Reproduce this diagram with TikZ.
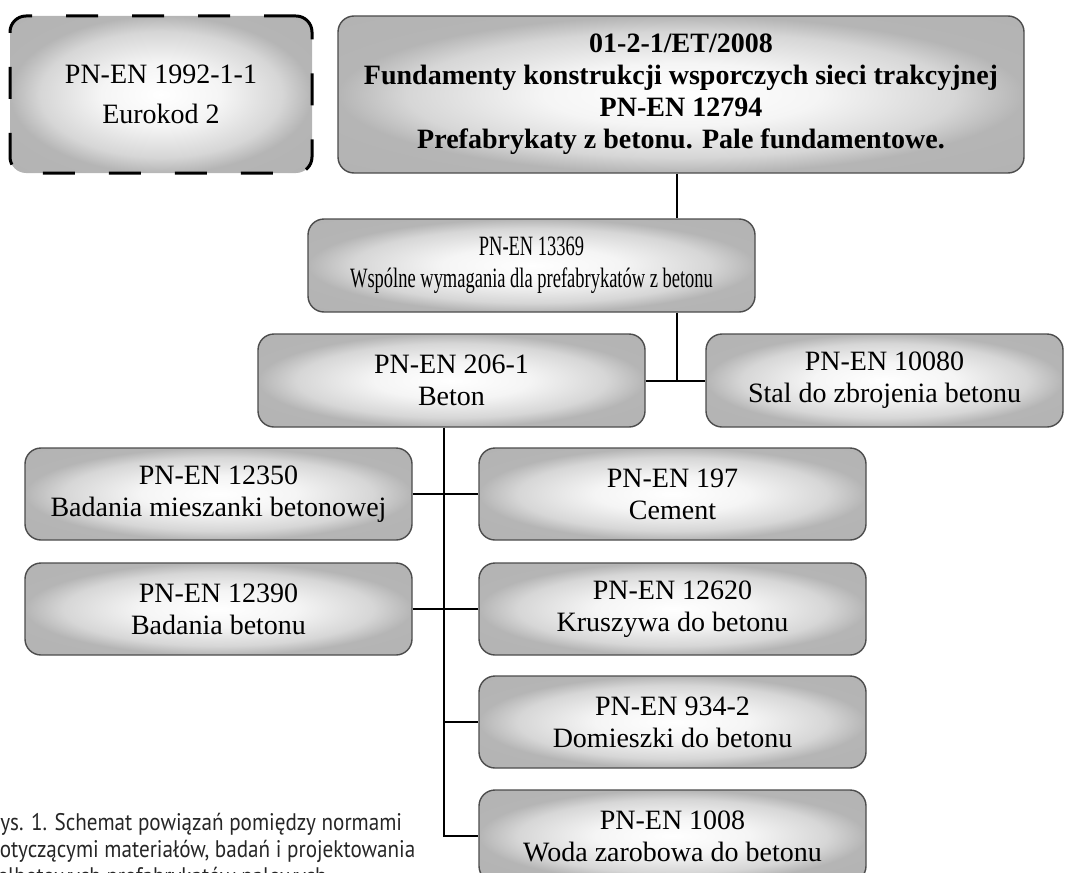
\documentclass[tikz,border=0pt]{standalone}
\usepackage{fontspec}
\setmainfont{Liberation Serif}
\newfontfamily\narrowserif[FakeStretch=0.66]{Liberation Serif}
\newfontfamily\capfont[FakeStretch=0.88]{PT Sans}
\pgfdeclareradialshading{boxshade}{\pgfpoint{0bp}{0bp}}{%
  color(0bp)=(white); color(10bp)=(black!4); color(20bp)=(black!16);
  color(25bp)=(black!29); color(50bp)=(black!31)}

\begin{document}
\begin{tikzpicture}
[x=.5pt,y=-.5pt,
 box/.style={draw=black!70,line width=.7pt,rounded corners=8pt,
   shading=boxshade,align=center,
   minimum height=46pt,font=\fontsize{14}{16}\selectfont},
 normbox/.style={box,minimum width=193.5pt},
 link/.style={line width=1pt}]
\useasboundingbox (0,0) rectangle (1080,872);

\node[box,draw=black,line width=1.5pt,dash pattern=on 16pt off 17pt,
  minimum width=151pt,minimum height=78.5pt,
  font=\fontsize{14}{23}\selectfont] (en1992) at (161,94.5)
  {\raisebox{-3pt}{PN-EN 1992-1-1}\\Eurokod 2};
\node[box,minimum width=343pt,minimum height=78.5pt,
  font=\bfseries\fontsize{14}{16}\selectfont] (en12794) at (681,94.5)
  {01-2-1/ET/2008\\Fundamenty konstrukcji wsporczych sieci trakcyjnej\\PN-EN 12794\\Prefabrykaty z betonu. Pale fundamentowe.};

\node[box,minimum width=223.5pt,minimum height=46.5pt,
  font=\narrowserif\fontsize{14}{16}\selectfont] (en13369) at (531.5,265.5)
  {PN-EN 13369\\Wspólne wymagania dla prefabrykatów z betonu};

\node[normbox,minimum height=46.5pt] (en206) at (451.5,380.5) {PN-EN 206-1\\Beton};
\node[box,minimum width=178.5pt,minimum height=46.5pt] (en10080) at (884.5,380.5) {PN-EN 10080\\Stal do zbrojenia betonu};

\node[normbox] (en12350) at (218.5,494) {PN-EN 12350\\Badania mieszanki betonowej};
\node[normbox] (en197) at (672.5,494) {PN-EN 197\\Cement};
\node[normbox] (en12390) at (218.5,609) {PN-EN 12390\\Badania betonu};
\node[normbox] (en12620) at (672.5,609) {PN-EN 12620\\Kruszywa do betonu};
\node[normbox] (en934) at (672.5,722) {PN-EN 934-2\\Domieszki do betonu};
\node[normbox] (en1008) at (672.5,836) {PN-EN 1008\\Woda zarobowa do betonu};

\coordinate (t1) at (677,0);
\coordinate (t2) at (444,0);

\node[anchor=north west,align=left,inner sep=0pt,text=black!85,
  font=\capfont\fontsize{12}{13.5}\selectfont] (cap) at (-12,813)
  {Rys. 1. Schemat powiązań pomiędzy normami\\dotyczącymi materiałów, badań i projektowania\\żelbetowych prefabrykatów palowych};

\draw[link] (en12794.south -| t1) -- (en13369.north -| t1);
\draw[link] (en13369.south -| t1) -- (en206.east -| t1);
\draw[link] (en206.south -| t2) |- (en1008.west);
\draw[link] (en934.west -| t2) -- (en934.west);
\foreach \from/\to in {en206/en10080,en12350/en197,en12390/en12620}
\draw[link] (\from) -- (\to);
\end{tikzpicture}
\end{document}
